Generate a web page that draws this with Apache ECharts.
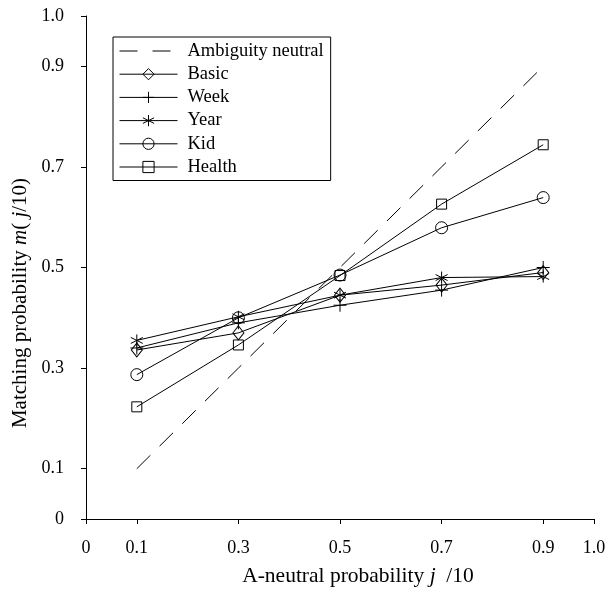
<!DOCTYPE html>
<html>
<head>
<meta charset="utf-8">
<script src="https://cdn.jsdelivr.net/npm/echarts@6/dist/echarts.min.js"></script>
<style>html,body{margin:0;padding:0;background:#fff}#c{width:616px;height:592px}</style>
</head>
<body>
<div id="c"></div>
<script>
const xValues = [0.1, 0.3, 0.5, 0.7, 0.9];
const neutral = [0.1, 0.3, 0.5, 0.7, 0.9];
const basic  = [0.336, 0.370, 0.445, 0.465, 0.490];
const week   = [0.340, 0.390, 0.425, 0.455, 0.500];
const year   = [0.355, 0.402, 0.445, 0.480, 0.482];
const kid    = [0.287, 0.400, 0.485, 0.579, 0.639];
const health = [0.223, 0.346, 0.484, 0.626, 0.744];
const tickValues = [0, 0.1, 0.3, 0.5, 0.7, 0.9, 1.0];
const seriesNames = ['Ambiguity neutral', 'Basic', 'Week', 'Year', 'Kid', 'Health'];

const FONT = 'Liberation Serif';
const pair = arr => xValues.map((x, i) => [x, arr[i]]);
const fmt = v => (v === 0 ? '0' : v.toFixed(1));

const PLUS = 'path://M5,0L5,10M0,5L10,5';
const STAR = 'path://M5,0L5,10M0.67,2.5L9.33,7.5M0.67,7.5L9.33,2.5';

function mk(name, data, symbol, size, dash) {
  return {
    name: name, type: 'line', data: pair(data),
    symbol: symbol, symbolSize: size,
    lineStyle: { color: '#000', width: 1, type: dash || 'solid' },
    itemStyle: { color: 'transparent', borderColor: symbol === 'none' ? 'transparent' : '#000', borderWidth: 1 },
    emphasis: { disabled: true },
    animation: false, z: 2
  };
}

const chart = echarts.init(document.getElementById('c'), null, { renderer: 'canvas' });
chart.setOption({
  backgroundColor: '#fff',
  animation: false,
  textStyle: { fontFamily: FONT, color: '#000' },
  grid: { left: 86, right: 22, top: 16, bottom: 73, containLabel: false },
  legend: {
    orient: 'vertical', left: 113, top: 37,
    padding: [4.5, 7, 4, 6],
    borderColor: '#000', borderWidth: 1,
    itemWidth: 58, itemHeight: 14, itemGap: 4.2,
    selectedMode: false,
    textStyle: { fontFamily: FONT, fontSize: 18.5, color: '#000', padding: [0, 0, 0, 5] },
    itemStyle: { borderWidth: 1 },
    lineStyle: { width: 1 },
    data: [
      { name: seriesNames[0], lineStyle: { type: [18, 15] } },
      seriesNames[1], seriesNames[2], seriesNames[3], seriesNames[4], seriesNames[5]
    ]
  },
  xAxis: {
    type: 'value', min: 0, max: 1,
    name: 'A-neutral probability {i|j}  /10',
    nameLocation: 'middle', nameGap: 46,
    nameTextStyle: { fontFamily: FONT, fontSize: 21.5, color: '#000', padding: [0, 0, 0, 36],
      rich: { i: { fontFamily: FONT, fontSize: 21.5, fontStyle: 'italic', color: '#000' } } },
    splitLine: { show: false },
    axisLine: { show: true, lineStyle: { color: '#000', width: 1 } },
    axisTick: { show: true, inside: false, length: 5, customValues: tickValues, lineStyle: { color: '#000' } },
    axisLabel: { customValues: tickValues, formatter: fmt, margin: 20, fontFamily: FONT, fontSize: 18, color: '#000' }
  },
  yAxis: {
    type: 'value', min: 0, max: 1,
    name: 'Matching probability {i|m}( {i|j}/10)',
    nameLocation: 'middle', nameGap: 53, nameRotate: 90,
    nameTextStyle: { fontFamily: FONT, fontSize: 21, color: '#000', padding: [0, 71, 0, 0],
      rich: { i: { fontFamily: FONT, fontSize: 21, fontStyle: 'italic', color: '#000' } } },
    splitLine: { show: false },
    axisLine: { show: true, lineStyle: { color: '#000', width: 1 } },
    axisTick: { show: true, inside: false, length: 5, customValues: tickValues, lineStyle: { color: '#000' } },
    axisLabel: { customValues: tickValues, formatter: fmt, margin: 22, fontFamily: FONT, fontSize: 18, color: '#000' }
  },
  series: [
    mk(seriesNames[0], neutral, 'none', 0, [19, 13]),
    mk(seriesNames[1], basic, 'diamond', [11, 14]),
    mk(seriesNames[2], week, PLUS, 13),
    mk(seriesNames[3], year, STAR, 12),
    mk(seriesNames[4], kid, 'circle', 12),
    mk(seriesNames[5], health, 'rect', 10)
  ]
});
</script>
</body>
</html>
